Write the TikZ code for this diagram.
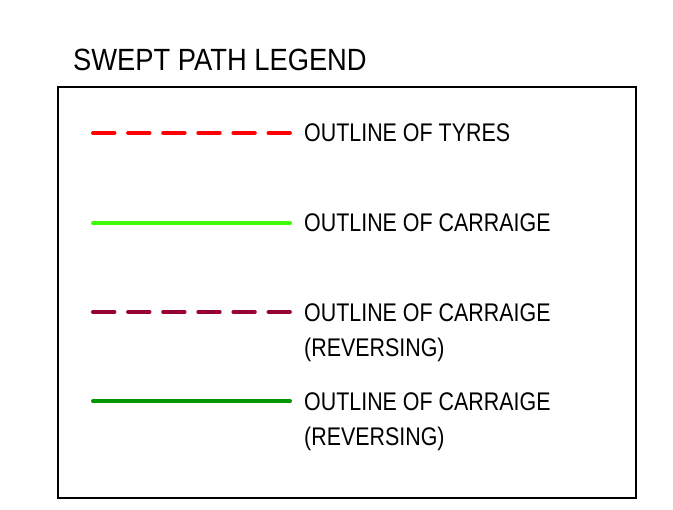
\documentclass[tikz,border=0pt]{standalone}
\usepackage{fontspec}
\setmainfont{Liberation Sans}[FakeStretch=0.84]
\newfontfamily\titlefont{Liberation Sans}[FakeStretch=0.89]
\definecolor{tyrered}{RGB}{255,0,0}
\definecolor{carrgreen}{RGB}{60,255,0}
\definecolor{revred}{RGB}{153,0,51}
\definecolor{revgreen}{RGB}{0,150,0}
\begin{document}
\begin{tikzpicture}[x=1pt,y=-1pt,
  lbl/.style={anchor=base west,inner sep=0pt,font=\fontsize{25.5}{35}\selectfont,align=left},
  sample/.style={line width=4pt,line cap=round},
  dashsample/.style={sample,dash pattern=on 21.4pt off 13.7pt}]
\useasboundingbox (0,0) rectangle (673,510);
\fill[white] (0,0) rectangle (673,510);
\node[anchor=base west,inner sep=0pt,font=\titlefont\fontsize{30.7}{36}\selectfont] (title) at (73,70.5) {SWEPT PATH LEGEND};
\draw[line width=1.5pt] (58,87) rectangle (636,498);
\coordinate (a1) at (93,133); \coordinate (a2) at (290,133);
\coordinate (b1) at (93,223); \coordinate (b2) at (290,223);
\coordinate (c1) at (93,312); \coordinate (c2) at (290,312);
\coordinate (d1) at (93,401); \coordinate (d2) at (290,401);
\draw[dashsample,tyrered] (a1) -- (a2);
\draw[sample,carrgreen] (b1) -- (b2);
\draw[dashsample,revred] (c1) -- (c2);
\draw[sample,revgreen] (d1) -- (d2);
\node[lbl] (la) at (304,141.7) {OUTLINE OF TYRES};
\node[lbl] (lb) at (304,231.6) {OUTLINE OF CARRAIGE};
\node[lbl] (lc) at (304,356.3) {OUTLINE OF CARRAIGE\\(REVERSING)};
\node[lbl] (ld) at (304,445.5) {OUTLINE OF CARRAIGE\\(REVERSING)};
\end{tikzpicture}
\end{document}
